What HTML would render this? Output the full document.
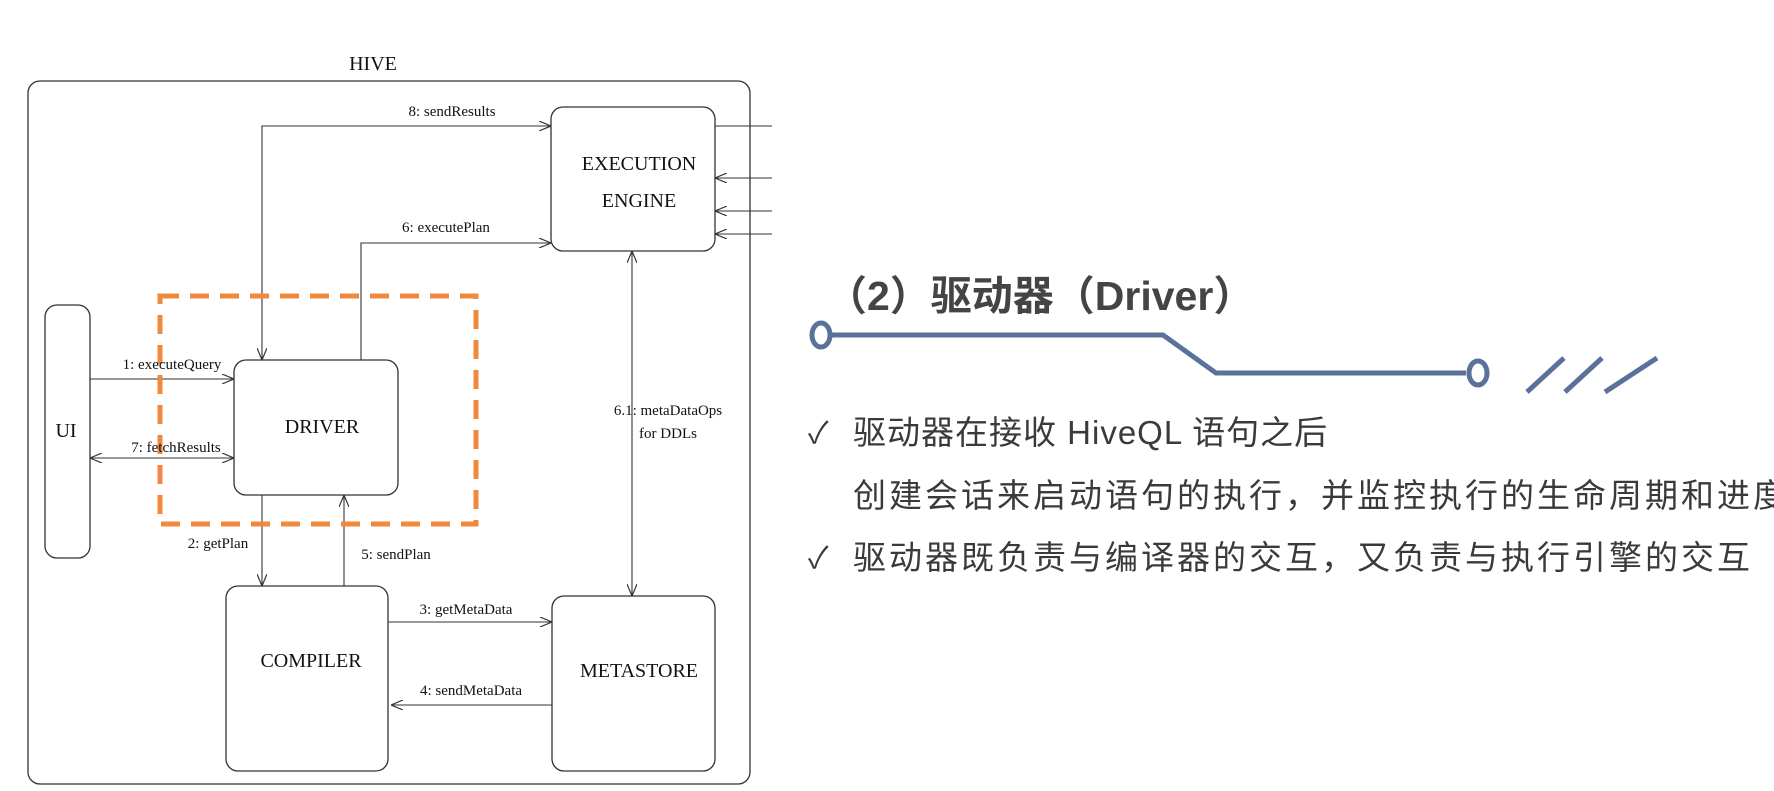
<!DOCTYPE html>
<html><head><meta charset="utf-8"><style>
html,body{margin:0;padding:0;background:#fff;}
body{width:1774px;height:791px;overflow:hidden;position:relative;}
svg{position:absolute;left:0;top:0;}
.t{position:absolute;font-family:"Liberation Sans","Noto Sans CJK SC",sans-serif;color:#3a3a3a;white-space:nowrap;}
</style></head><body>
<svg width="1774" height="791" viewBox="0 0 1774 791" font-family="Liberation Serif, serif">
<defs>
<marker id="a" viewBox="0 0 12 10" refX="12" refY="5" markerWidth="12" markerHeight="10" markerUnits="userSpaceOnUse" orient="auto-start-reverse">
<path d="M0,0 L12,5 L0,10" fill="none" stroke="#333" stroke-width="1.2"/></marker>
</defs>
<g stroke="#333" stroke-width="1.3" fill="none">
<rect x="28" y="81" width="722" height="703" rx="12"/>
<rect x="551" y="107" width="164" height="144" rx="12"/>
<rect x="45" y="305" width="45" height="253" rx="12"/>
<rect x="234" y="360" width="164" height="135" rx="12"/>
<rect x="226" y="586" width="162" height="185" rx="12"/>
<rect x="552" y="596" width="163" height="175" rx="12"/>
</g>
<g stroke="#333" stroke-width="1.1" fill="none">
<polyline points="262,360 262,126 551,126" marker-start="url(#a)" marker-end="url(#a)"/>
<polyline points="361,360 361,243 551,243" marker-end="url(#a)"/>
<line x1="715" y1="126" x2="772" y2="126"/>
<line x1="772" y1="178" x2="715" y2="178" marker-end="url(#a)"/>
<line x1="772" y1="211" x2="715" y2="211" marker-end="url(#a)"/>
<line x1="772" y1="234" x2="715" y2="234" marker-end="url(#a)"/>
<line x1="90" y1="379" x2="234" y2="379" marker-end="url(#a)"/>
<line x1="90" y1="458" x2="234" y2="458" marker-start="url(#a)" marker-end="url(#a)"/>
<line x1="262" y1="495" x2="262" y2="586" marker-end="url(#a)"/>
<line x1="344" y1="586" x2="344" y2="495" marker-end="url(#a)"/>
<line x1="388" y1="622" x2="552" y2="622" marker-end="url(#a)"/>
<line x1="552" y1="705" x2="391" y2="705" marker-end="url(#a)"/>
<line x1="632" y1="251" x2="632" y2="596" marker-start="url(#a)" marker-end="url(#a)"/>
</g>
<rect x="160" y="296" width="316" height="228" fill="none" stroke="#f0883e" stroke-width="5" stroke-dasharray="19,11"/>
<g fill="#111" font-size="20" text-anchor="middle">
<text x="373" y="70">HIVE</text>
<text x="639" y="170">EXECUTION</text>
<text x="639" y="207">ENGINE</text>
<text x="66" y="437">UI</text>
<text x="322" y="433">DRIVER</text>
<text x="311" y="667">COMPILER</text>
<text x="639" y="677">METASTORE</text>
</g>
<g fill="#111" font-size="15" text-anchor="middle">
<text x="452" y="116">8: sendResults</text>
<text x="446" y="232">6: executePlan</text>
<text x="172" y="369">1: executeQuery</text>
<text x="176" y="452">7: fetchResults</text>
<text x="218" y="548">2: getPlan</text>
<text x="396" y="559">5: sendPlan</text>
<text x="466" y="614">3: getMetaData</text>
<text x="471" y="695">4: sendMetaData</text>
<text x="668" y="415">6.1: metaDataOps</text>
<text x="668" y="438">for DDLs</text>
</g>
<g stroke="#5a7299" stroke-width="5" fill="none">
<polyline points="830,335 1163,335 1216,373 1466,373"/>
<ellipse cx="821" cy="335" rx="9" ry="12" fill="#fff"/>
<ellipse cx="1478" cy="373" rx="9" ry="12" fill="#fff"/>
<line x1="1527" y1="392" x2="1564" y2="358"/>
<line x1="1565" y1="392" x2="1602" y2="358"/>
<line x1="1605" y1="392" x2="1657" y2="358"/>
</g>
</svg>
<div class="t" style="left:826px;top:262px;font-size:41px;font-weight:bold;color:#444;">（2）驱动器（Driver）</div>
<div class="t" style="left:808px;top:408px;font-size:30px;">✓</div>
<div class="t" style="left:853px;top:406px;font-size:33px;letter-spacing:1px;">驱动器在接收 HiveQL 语句之后</div>
<div class="t" style="left:853px;top:469px;font-size:33px;letter-spacing:3px;">创建会话来启动语句的执行，并监控执行的生命周期和进度</div>
<div class="t" style="left:808px;top:533px;font-size:30px;">✓</div>
<div class="t" style="left:853px;top:531px;font-size:33px;letter-spacing:3px;">驱动器既负责与编译器的交互，又负责与执行引擎的交互</div>
</body></html>
